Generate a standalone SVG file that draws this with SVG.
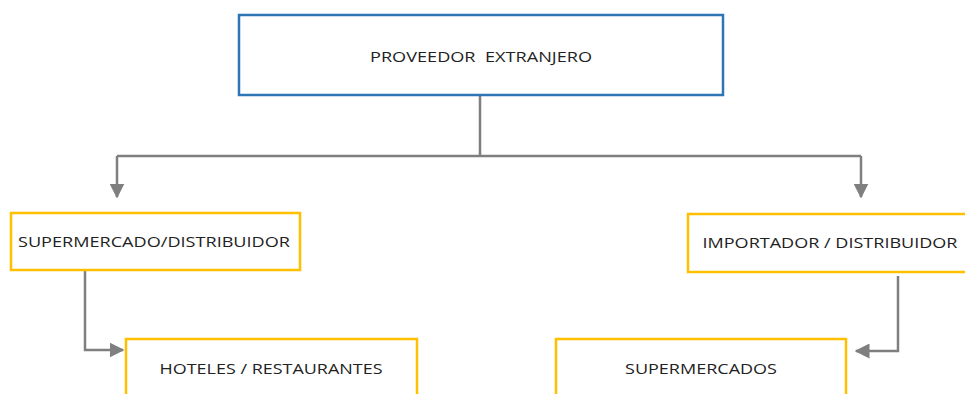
<svg xmlns="http://www.w3.org/2000/svg" width="965" height="394" viewBox="0 0 965 394">
<style>
.box{fill:#fff;stroke-width:2.5}
.blue{stroke:#2E75B6}
.yel{stroke:#FFC000}
.t{font-family:"Open Sans","Liberation Sans",sans-serif;font-size:15px;fill:#222;text-anchor:middle;white-space:pre}
.c{fill:none;stroke:#7F7F7F;stroke-width:2.5}
</style>
<defs>
<marker id="ah" viewBox="0 0 10 10" refX="9" refY="5" markerWidth="6" markerHeight="6" markerUnits="strokeWidth" orient="auto">
<path d="M0,0 L10,5 L0,10 z" fill="#7F7F7F"/>
</marker>
</defs>
<rect width="965" height="394" fill="#fff"/>
<g id="connectors">
<path class="c" d="M480,95 V156"/>
<path class="c" d="M117,156 H861"/>
<path class="c" d="M117,156 V197" marker-end="url(#ah)"/>
<path class="c" d="M861,156 V197" marker-end="url(#ah)"/>
<path class="c" d="M85,271 V350 H123" marker-end="url(#ah)"/>
<path class="c" d="M898,276 V351 H856" marker-end="url(#ah)"/>
</g>
<g id="proveedor">
<rect class="box blue" x="239" y="15" width="484" height="80"/>
<text class="t" x="481" y="62" textLength="222" lengthAdjust="spacingAndGlyphs" xml:space="preserve">PROVEEDOR  EXTRANJERO</text>
</g>
<g id="supermercado-distribuidor">
<rect class="box yel" x="11" y="213" width="289" height="57"/>
<text class="t" x="154" y="247" textLength="272" lengthAdjust="spacingAndGlyphs">SUPERMERCADO/DISTRIBUIDOR</text>
</g>
<g id="importador-distribuidor">
<rect class="box yel" x="688" y="214" width="290" height="58"/>
<text class="t" x="830" y="248" textLength="255" lengthAdjust="spacingAndGlyphs">IMPORTADOR / DISTRIBUIDOR</text>
</g>
<g id="hoteles-restaurantes">
<rect class="box yel" x="126" y="339" width="291" height="70"/>
<text class="t" x="271" y="374" textLength="223" lengthAdjust="spacingAndGlyphs">HOTELES / RESTAURANTES</text>
</g>
<g id="supermercados">
<rect class="box yel" x="556" y="339" width="290" height="70"/>
<text class="t" x="701" y="374" textLength="152" lengthAdjust="spacingAndGlyphs">SUPERMERCADOS</text>
</g>
</svg>
